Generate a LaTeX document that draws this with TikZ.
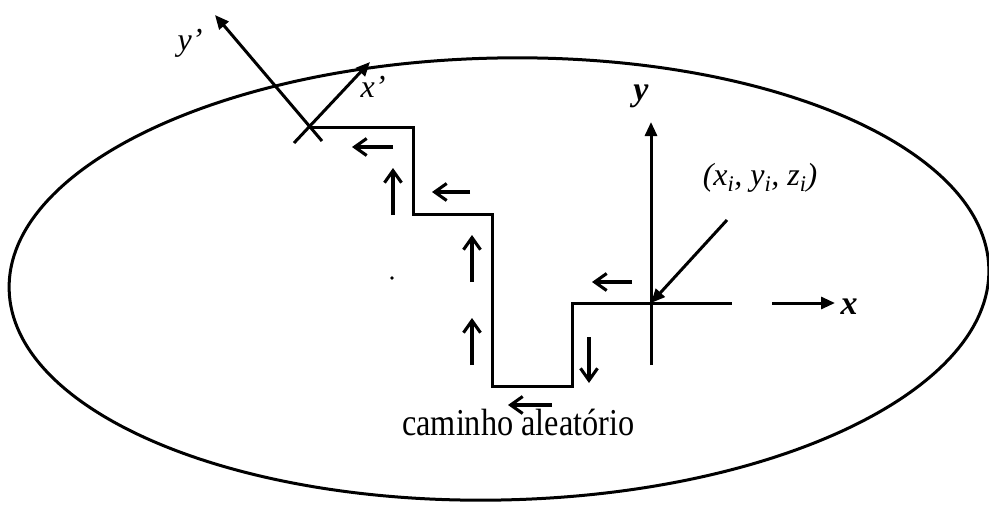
\documentclass[tikz,border=0pt]{standalone}
\usepackage{fontspec}
\setmainfont{Liberation Serif}
\newfontfamily\capfont[FakeStretch=0.85]{Liberation Serif}
\usetikzlibrary{arrows.meta}
\begin{document}
\begin{tikzpicture}[x=1pt,y=-1pt,
  outline/.style={line width=3pt},
  pathline/.style={line width=3pt, line join=miter},
  axisarrow/.style={line width=3pt,-{Triangle[length=14pt,width=12pt]}},
  dirarrow/.style={line width=3.1pt,-{Straight Barb[length=12pt,width=17pt]}},
  lbl/.style={font=\fontsize{32}{32}\selectfont\itshape, inner sep=0pt},
  bl/.style={font=\fontsize{34}{34}\selectfont\bfseries\itshape, inner sep=0pt}]
\useasboundingbox (0,0) rectangle (989,504);
% region boundary
\draw[outline, rotate around={1.2:(499,279)}] (499,279) ellipse [x radius=490, y radius=221];
% local frame at the cross
\coordinate (c) at (308,127);
\coordinate (ya) at (322,141);
\coordinate (yb) at (215,15);
\coordinate (xa) at (294,143);
\coordinate (xb) at (370,62);
\draw[axisarrow] (ya) -- (yb);
\draw[axisarrow] (xa) -- (xb);
\node[lbl] (lyp) at (190,43) {y’};
\node[lbl] (lxp) at (373,87) {x’};
% random walk staircase
\coordinate (p1) at (413,127);
\coordinate (p2) at (413,214);
\coordinate (p3) at (492,214);
\coordinate (p4) at (492,386);
\coordinate (p5) at (572,386);
\coordinate (p6) at (572,303);
\coordinate (o) at (651,303);
\coordinate (xe) at (732,303);
\draw[pathline] (c) -- (p1) -- (p2) -- (p3) -- (p4) -- (p5) -- (p6) -- (xe);
% main axes
\coordinate (yb0) at (651,365);
\coordinate (yt) at (651,122);
\draw[axisarrow] (yb0) -- (yt);
\coordinate (xs) at (772,303);
\coordinate (xt) at (835,303);
\draw[axisarrow] (xs) -- (xt);
\node[bl] (lx) at (849,307) {x};
\node[bl] (ly) at (641,96) {y};
% point label
\node[lbl] (pt) at (760,178) {(x\textsubscript{i}, y\textsubscript{i}, z\textsubscript{i})};
\coordinate (ps) at (727,220);
\draw[axisarrow] (ps) -- (o);
% direction markers
\coordinate (a1s) at (393,147); \coordinate (a1e) at (352,147);
\coordinate (a2s) at (393,215); \coordinate (a2e) at (393,168);
\coordinate (a3s) at (470,192); \coordinate (a3e) at (432,192);
\coordinate (a4s) at (472,282); \coordinate (a4e) at (472,235);
\coordinate (a5s) at (472,365); \coordinate (a5e) at (472,318);
\coordinate (a6s) at (632,282); \coordinate (a6e) at (592,282);
\coordinate (a7s) at (589,337); \coordinate (a7e) at (589,383);
\coordinate (a8s) at (552,405); \coordinate (a8e) at (508,405);
\foreach \i in {1,...,8} {\draw[dirarrow] (a\i s) -- (a\i e);}
\fill (392,278) circle (1.8pt);
% caption
\node[font=\capfont\fontsize{38}{38}\selectfont, inner sep=0pt, anchor=base west] (cap) at (402,435) {caminho aleatório};
\end{tikzpicture}
\end{document}
